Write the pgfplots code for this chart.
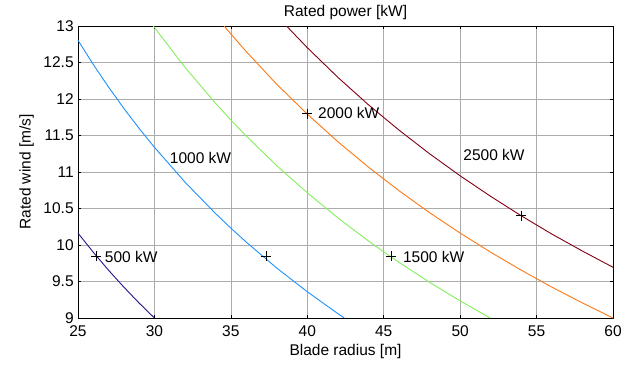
\documentclass[border=0pt]{standalone}
\usepackage{fontspec}
\setmainfont{Liberation Sans}
\usepackage{pgfplots}
\pgfplotsset{compat=1.18}
\definecolor{c500}{RGB}{30,20,140}
\definecolor{c1000}{RGB}{30,145,255}
\definecolor{c1500}{RGB}{130,240,90}
\definecolor{c2000}{RGB}{255,120,20}
\definecolor{c2500}{RGB}{130,0,20}
\begin{document}
\fontsize{15.5}{18}\selectfont
\begin{tikzpicture}[x=1pt,y=1pt]
\useasboundingbox (-78,-50) rectangle (561,318);
\begin{axis}[
  at={(0,0)}, anchor=south west,
  scale only axis, width=535pt, height=292pt,
  xmin=25, xmax=60, ymin=9, ymax=13,
  xtick={25,30,...,60},
  ytick={9,9.5,...,13},
  yticklabels={9,9.5,10,10.5,11,11.5,12,12.5,13},
  /pgf/number format/assume math mode=true,
  tick label style={font=\fontsize{15.5}{18}\selectfont},
  xticklabel style={yshift=-2pt},
  yticklabel style={xshift=1pt},
  label style={font=\fontsize{15.5}{18}\selectfont},
  title style={font=\fontsize{15.5}{18}\selectfont, yshift=-5pt},
  title={Rated power [kW]},
  xlabel={Blade radius [m]},
  ylabel={Rated wind [m/s]},
  xlabel style={yshift=3pt},
  ylabel style={yshift=-1pt},
  grid=major,
  major grid style={gray!65, line width=0.7pt},
  tick align=inside, major tick length=3pt,
  tick style={black, line width=0.6pt},
  axis line style={black, line width=0.8pt},
  clip=true,
]
\addplot[c500, line width=0.9pt] coordinates {
(25,10.163)(26,9.901)(27,9.654)(28,9.423)(29,9.205)(30,9.0)};
\addplot[c1000, line width=0.9pt] coordinates {
(25,12.804)(26,12.473)(27,12.163)(28,11.871)(29,11.597)(30,11.338)(32,10.861)(34,10.431)(35,10.231)(36,10.041)(38,9.685)(40,9.360)(42,9.060)(42.42,9.0)};
\addplot[c1500, line width=0.9pt] coordinates {
(29.93,13.0)(30,12.980)(32,12.433)(34,11.941)(35,11.712)(36,11.494)(38,11.087)(40,10.715)(42,10.372)(44,10.055)(45,9.906)(46,9.762)(48,9.489)(50,9.234)(51.96,9.0)};
\addplot[c2000, line width=0.9pt] coordinates {
(34.56,13.0)(35,12.891)(36,12.651)(38,12.202)(40,11.793)(42,11.415)(44,11.067)(46,10.744)(48,10.443)(50,10.163)(52,9.901)(54,9.655)(56,9.423)(58,9.206)(60,9.0)};
\addplot[c2500, line width=0.9pt] coordinates {
(38.64,13.0)(40,12.703)(42,12.297)(44,11.921)(46,11.574)(48,11.250)(50,10.948)(52,10.666)(54,10.400)(56,10.150)(58,9.917)(60,9.695)};
\addplot[only marks, mark=+, mark size=5pt, black, mark options={line width=0.8pt}] coordinates {
(26.2,9.85)(37.3,9.85)(45.5,9.85)(40,11.8)(54,10.4)};
\node[anchor=west, inner sep=0pt] at (axis cs:26.75,9.83) {500 kW};
\node[anchor=west, inner sep=0pt] at (axis cs:31.0,11.19) {1000 kW};
\node[anchor=west, inner sep=0pt] at (axis cs:46.25,9.83) {1500 kW};
\node[anchor=west, inner sep=0pt] at (axis cs:40.7,11.81) {2000 kW};
\node[anchor=west, inner sep=0pt] at (axis cs:50.2,11.23) {2500 kW};
\end{axis}
\end{tikzpicture}
\end{document}
